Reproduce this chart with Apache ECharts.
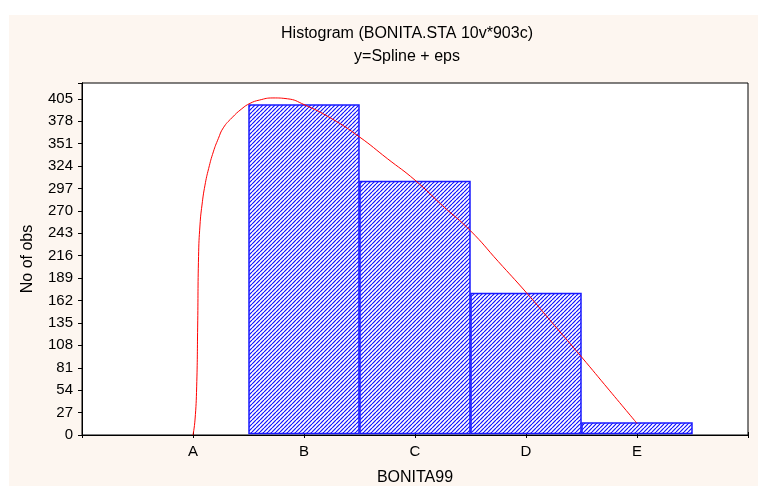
<!DOCTYPE html>
<html>
<head>
<meta charset="utf-8">
<script src="https://cdn.jsdelivr.net/npm/echarts@6/dist/echarts.min.js"></script>
<style>
  html, body { margin: 0; padding: 0; background: #fff; }
  #chart { width: 758px; height: 486px; }
</style>
</head>
<body>
<div id="chart"></div>
<script>
// categories of BONITA99, placed at x = 1..5 on the value axis
const categories = ["A", "B", "C", "D", "E"];
const counts = [0, 398, 306, 171, 15];
const yTicks = [0, 27, 54, 81, 108, 135, 162, 189, 216, 243, 270, 297, 324, 351, 378, 405];
// fitted spline (x in category units, y = No of obs)
const splineX = [1.0, 1.018, 1.033, 1.042, 1.05, 1.063, 1.081, 1.108, 1.141, 1.183, 1.228, 1.273, 1.35, 1.44, 1.514, 1.6, 1.72, 1.85, 2.0, 2.25, 2.5, 2.75, 3.0, 3.25, 3.5, 3.75, 4.0, 4.25, 4.5, 4.75, 5.0];
const splineY = [0, 18, 58, 130, 215, 253, 277, 301, 321, 341, 357, 370, 382, 393, 399.5, 403.5, 406, 405, 398, 381, 359, 333, 307, 276, 246, 209, 172, 133, 94, 54, 14];

const font = "'Liberation Sans', Arial, sans-serif";

// hatch fill "/" in blue
function makeHatch() {
  const c = document.createElement("canvas");
  c.width = 4;
  c.height = 4;
  const ctx = c.getContext("2d");
  ctx.fillStyle = "#ffffff";
  ctx.fillRect(0, 0, 4, 4);
  ctx.strokeStyle = "#1010ff";
  ctx.lineWidth = 1.2;
  for (const k of [-4, 0, 4]) {
    ctx.beginPath();
    ctx.moveTo(k, 4);
    ctx.lineTo(k + 4, 0);
    ctx.stroke();
  }
  return c;
}
const hatch = makeHatch();

const chart = echarts.init(document.getElementById("chart"));
const yMax = 424;

chart.setOption({
  animation: false,
  graphic: [
    { type: "rect", z: -10, shape: { x: 9, y: 15, width: 749, height: 471 }, style: { fill: "#fdf6f0" } },
    { type: "text", x: 407, y: 34, style: { text: "Histogram (BONITA.STA 10v*903c)", font: "16px " + font, fill: "#000", textAlign: "center", textVerticalAlign: "middle" } },
    { type: "text", x: 407, y: 57, style: { text: "y=Spline + eps", font: "16px " + font, fill: "#000", textAlign: "center", textVerticalAlign: "middle" } }
  ],
  grid: {
    left: 82, top: 83, right: 10, bottom: 51,
    containLabel: false, outerBoundsMode: "none",
    show: true, backgroundColor: "#ffffff", borderColor: "#000", borderWidth: 1
  },
  xAxis: [
    {
      type: "value", min: 0, max: 6, interval: 1, position: "bottom",
      name: "BONITA99", nameLocation: "middle", nameGap: 35,
      nameTextStyle: { fontFamily: font, fontSize: 16, color: "#000" },
      axisLine: { lineStyle: { color: "#000" } },
      axisTick: { inside: true, length: 3, lineStyle: { color: "#000" } },
      axisLabel: {
        margin: 9, fontFamily: font, fontSize: 15, color: "#000",
        formatter: (v) => categories[v - 1] || ""
      },
      splitLine: { show: false }
    },
    {
      type: "value", min: 0, max: 6, interval: 1, position: "top",
      axisLine: { lineStyle: { color: "#000" } },
      axisTick: { inside: true, length: 3, lineStyle: { color: "#000" } },
      axisLabel: { show: false },
      splitLine: { show: false }
    }
  ],
  yAxis: [
    {
      type: "value", min: 0, max: yMax, interval: 27, position: "left",
      name: "No of obs", nameLocation: "middle", nameRotate: 90, nameGap: 46,
      nameTextStyle: { fontFamily: font, fontSize: 16, color: "#000" },
      axisLine: { show: true, lineStyle: { color: "#000" } },
      axisTick: { show: false },
      axisLabel: {
        margin: 9, fontFamily: font, fontSize: 15, color: "#000",
        formatter: (v) => (yTicks.indexOf(v) >= 0 ? String(v) : "")
      },
      splitLine: { show: false }
    },
    {
      type: "value", min: 0, max: yMax, interval: 27, position: "right",
      axisLine: { show: true, lineStyle: { color: "#000" } },
      axisTick: { inside: true, length: 4, lineStyle: { color: "#000" } },
      axisLabel: { show: false },
      splitLine: { show: false }
    }
  ],
  series: [
    {
      type: "custom",
      xAxisIndex: 0, yAxisIndex: 0,
      data: categories.map((c, i) => [i + 1, counts[i]]),
      renderItem: function (params, api) {
        const x = api.value(0);
        const v = api.value(1);
        if (!v) return null;
        const p0 = api.coord([x - 0.5, 0]);
        const p1 = api.coord([x + 0.5, v]);
        return {
          type: "rect",
          shape: {
            x: p0[0] + 0.5,
            y: p1[1] + 0.5,
            width: p1[0] - p0[0] - 1,
            height: p0[1] - p1[1] - 2
          },
          style: {
            fill: { image: hatch, repeat: "repeat" },
            stroke: "#1a1aff",
            lineWidth: 1.5
          }
        };
      },
      z: 2
    },
    {
      type: "line",
      xAxisIndex: 0, yAxisIndex: 0,
      data: splineX.map((x, i) => [x, splineY[i]]),
      smooth: 0.5,
      showSymbol: false,
      lineStyle: { color: "#ff0000", width: 1 },
      z: 3
    }
  ]
});
</script>
</body>
</html>
